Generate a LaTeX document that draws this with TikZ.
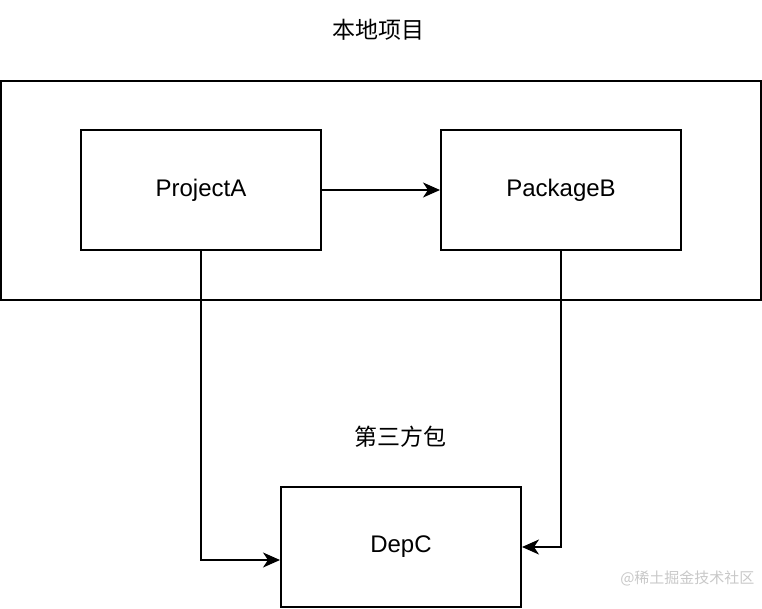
\documentclass[tikz,border=0pt]{standalone}
\usepackage{fontspec}
\setmainfont{Liberation Sans}
\newfontfamily\cjk{Noto Sans CJK SC}
\usetikzlibrary{arrows.meta,positioning}
\definecolor{wmgrey}{HTML}{C8C8C8}
\tikzset{
  pbox/.style={draw=black, fill=white, line width=2pt, minimum width=240pt, minimum height=120pt, font=\fontsize{24}{26}\selectfont, inner sep=0pt},
  groupbox/.style={draw=black, line width=2pt, minimum width=760pt, minimum height=219pt, inner sep=0pt},
  parrow/.style={-{Stealth[length=17pt, width=15pt, inset=5pt]}, line width=2pt},
  glabel/.style={font=\cjk\fontsize{23}{25}\selectfont},
}
\begin{document}
\begin{tikzpicture}[x=1pt, y=-1pt]
  \useasboundingbox (0,0) rectangle (762,608);
  \node[groupbox] (local) at (381,190.5) {};
  \node[glabel] (localtitle) at (378,30) {本地项目};
  \node[pbox] (proja) at (201,190) {ProjectA};
  \node[pbox] (pkgb) at (561,190) {PackageB};
  \node[pbox] (depc) at (401,547) {DepC};
  \node[glabel] (thirdtitle) at (400,437) {第三方包};
  \draw[parrow] (proja) -- (pkgb);
  \draw[parrow] (proja.south) |- ([yshift=-13pt]depc.west);
  \draw[parrow] (pkgb.south) |- (depc.east);
  \node[font=\cjk\fontsize{15}{16}\selectfont, text=wmgrey, anchor=east] (mark) at (758,578) {@稀土掘金技术社区};
\end{tikzpicture}
\end{document}
